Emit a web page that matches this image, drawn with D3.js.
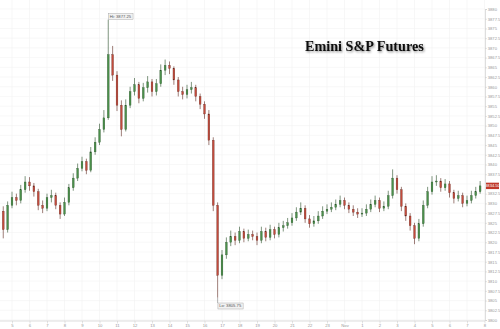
<!DOCTYPE html>
<html>
<head>
<meta charset="utf-8">
<script src="https://cdn.jsdelivr.net/npm/d3@7"></script>
<style>
  body { margin: 0; background: #fff; }
  svg { display: block; }
</style>
</head>
<body>
<svg id="chart" width="500" height="329"></svg>
<script>
// 15 minute bars, first bar at hour 4.5
const barStartHour = 4.5;
const barStepHours = 0.25;
const firstOpen = 3828;

const closes = [
  3823.25, 3829.5, 3831.5, 3830.75, 3833.5, 3835.5, 3834.5, 3833, 3829.5, 3828.75,
  3831.5, 3832, 3829.5, 3827.25, 3830.25, 3834, 3836.5, 3839, 3840.75, 3838.5,
  3843.25, 3845.75, 3849, 3852, 3868.25, 3863, 3855.25, 3849, 3855.25, 3858.75,
  3860.5, 3857, 3859.75, 3861.25, 3858.75, 3860.75, 3864.25, 3865.5, 3864.75, 3861.75,
  3858.75, 3858, 3859.25, 3859.75, 3857.5, 3855.5, 3853, 3846.25, 3829.5, 3811.5,
  3816.75, 3820, 3821.5, 3820.5, 3822.75, 3821, 3822, 3821.5, 3820.5, 3822.75,
  3821.25, 3823.25, 3822, 3823.75, 3824.25, 3825, 3826.25, 3827.75, 3828.75, 3826,
  3824.75, 3825.5, 3826.75, 3828, 3828.5, 3829, 3829.75, 3830.75, 3829.5, 3828.5,
  3827.75, 3827.25, 3827.5, 3828.5, 3829.75, 3830.75, 3828.75, 3829.25, 3832, 3836.5,
  3833.5, 3829.25, 3826.75, 3824.25, 3821, 3824.75, 3829.5, 3833, 3835.5, 3835.75,
  3834, 3835, 3832.75, 3831.25, 3832, 3830, 3830.75, 3832, 3833, 3834.5
];

const highs = [
  3829.25, 3830.5, 3833, 3832.5, 3834.75, 3837, 3836.75, 3835.25, 3833.75, 3830.75,
  3832.5, 3833.5, 3832.75, 3830.25, 3831.5, 3835, 3837.75, 3840.25, 3842, 3841.5,
  3844.5, 3847, 3850.5, 3854, 3877.25, 3870.5, 3864, 3856.5, 3856.75, 3860,
  3862.25, 3861.25, 3861, 3862.75, 3862, 3862, 3865.75, 3867, 3866.5, 3865.25,
  3862.5, 3860, 3860.5, 3861.25, 3860.5, 3858.25, 3856.25, 3854, 3847, 3830.25,
  3818, 3821.25, 3823, 3822.5, 3824, 3823.5, 3823.25, 3823, 3822.5, 3824,
  3823.75, 3824.5, 3824, 3825, 3825.5, 3826.25, 3827.5, 3829, 3830.25, 3829.5,
  3827, 3826.75, 3828, 3829.25, 3829.75, 3830.25, 3831, 3832, 3831.5, 3830.25,
  3829.5, 3828.75, 3828.75, 3829.75, 3831, 3832, 3831.5, 3830.5, 3833.25, 3838.75,
  3837.25, 3834.25, 3830, 3827.5, 3825, 3826, 3830.75, 3834.25, 3837, 3837.25,
  3836.5, 3836.25, 3835.75, 3833.5, 3833.25, 3832.75, 3832, 3833.25, 3834.25, 3835.75
];

const lows = [
  3821, 3822.5, 3828.75, 3829.5, 3830, 3832.75, 3833.25, 3831.75, 3828.25, 3827.5,
  3828, 3830.25, 3828.5, 3826, 3826.75, 3829.5, 3833.25, 3835.75, 3838.25, 3837.5,
  3838, 3842.5, 3845, 3848.25, 3851.5, 3861.5, 3853.75, 3847.25, 3848.5, 3854.5,
  3857.75, 3855.75, 3856.25, 3858.5, 3857.5, 3857.75, 3860, 3863, 3863.25, 3860.5,
  3857.5, 3856.75, 3857, 3858.25, 3856.25, 3854.25, 3851.75, 3845, 3828, 3805.75,
  3810.5, 3815.75, 3819, 3819.25, 3819.75, 3820, 3820.25, 3820.5, 3819.25, 3819.75,
  3820.25, 3820.5, 3821, 3821.25, 3822.75, 3823.5, 3824.25, 3825.5, 3827, 3825,
  3823.75, 3824, 3824.75, 3826, 3827.25, 3827.75, 3828.25, 3829, 3828.5, 3827.5,
  3826.75, 3826.25, 3826.5, 3826.75, 3827.75, 3829, 3827.75, 3828, 3828.5, 3831.25,
  3832.5, 3828, 3825.5, 3823, 3819.5, 3820.25, 3824, 3828.75, 3832.25, 3834.5,
  3833, 3833.25, 3831.5, 3830, 3830.5, 3829, 3829.25, 3830, 3831.25, 3832.5
];

// bottom axis: hour ticks, day change shown by name
const xTickHours = [5, 6, 7, 8, 9, 10, 11, 12, 13, 14, 15, 16, 17, 18, 19, 20, 21, 22, 23,
  24, 25, 26, 27, 28, 29, 30, 31, 32];
const xTickLabels = ["5", "6", "7", "8", "9", "10", "11", "12", "13", "14", "15", "16", "17", "18",
  "19", "20", "21", "22", "23", "Nov", "1", "2", "3", "4", "5", "6", "7", "8"];

const yTickValues = d3.range(3800, 3880.01, 2.5);
const title = "Emini S&P Futures";

const plot = {left: 0, right: 485, top: 0, bottom: 321};

const svg = d3.select("#chart");

const x = d3.scaleLinear().domain([5, 32]).range([12, 484.5]);
const y = d3.scaleLinear().domain([3800, 3880]).range([320, 9]);

const bars = closes.map((c, i) => ({
  t: barStartHour + i * barStepHours,
  o: i === 0 ? firstOpen : closes[i - 1],
  h: highs[i],
  l: lows[i],
  c: c
}));
const last = bars[bars.length - 1];

// shadow for title
const defs = svg.append("defs");
const f = defs.append("filter").attr("id", "shadow")
  .attr("x", "-10%").attr("y", "-30%").attr("width", "120%").attr("height", "160%");
f.append("feDropShadow").attr("dx", 1).attr("dy", 1.2)
  .attr("stdDeviation", 0.8).attr("flood-color", "#000").attr("flood-opacity", 0.45);

// grid
const grid = svg.append("g");
grid.selectAll(".vg")
  .data(xTickHours)
  .enter().append("line")
  .attr("x1", d => x(d)).attr("x2", d => x(d))
  .attr("y1", plot.top).attr("y2", plot.bottom)
  .attr("stroke", "#f1f1f1").attr("stroke-width", 0.6);
grid.selectAll(".hg")
  .data(yTickValues)
  .enter().append("line")
  .attr("x1", plot.left).attr("x2", plot.right)
  .attr("y1", d => y(d)).attr("y2", d => y(d))
  .attr("stroke", "#f4f4f4").attr("stroke-width", 0.6);

// right axis
const yAxis = d3.axisRight(y)
  .tickValues(yTickValues)
  .tickSize(2)
  .tickFormat(d => d % 1 === 0 ? d3.format("d")(d) : d3.format(".1f")(d));
const yg = svg.append("g")
  .attr("transform", `translate(${plot.right},0)`)
  .call(yAxis);
yg.select(".domain").attr("stroke", "#c8c8c8").attr("stroke-width", 0.6);
yg.selectAll(".tick line").attr("stroke", "#c8c8c8").attr("stroke-width", 0.5);
yg.selectAll(".tick text")
  .attr("x", 2.8)
  .attr("fill", "#999")
  .style("font-family", "Arial, 'Liberation Sans', sans-serif")
  .style("font-size", "4.1px");
// labels hidden behind the last price tag
yg.selectAll(".tick")
  .filter(d => Math.abs(y(d) - y(last.c)) < 5)
  .select("text").remove();

// bottom axis
const xAxis = d3.axisBottom(x)
  .tickValues(xTickHours)
  .tickSize(2.5)
  .tickFormat((d, i) => xTickLabels[i]);
const xg = svg.append("g")
  .attr("transform", `translate(0,${plot.bottom})`)
  .call(xAxis);
xg.select(".domain").attr("d", `M${plot.left},0H${plot.right}`)
  .attr("stroke", "#c8c8c8").attr("stroke-width", 0.6);
xg.selectAll(".tick line").attr("stroke", "#c8c8c8").attr("stroke-width", 0.5);
xg.selectAll(".tick text")
  .attr("y", 3.3)
  .attr("fill", "#999")
  .style("font-family", "Arial, 'Liberation Sans', sans-serif")
  .style("font-size", "4.2px");

// candles
const barW = 1.8;
const candles = svg.append("g");
const cg = candles.selectAll(".candle")
  .data(bars)
  .enter().append("g")
  .attr("class", "candle");

cg.append("line")
  .attr("x1", d => x(d.t)).attr("x2", d => x(d.t))
  .attr("y1", d => y(d.h)).attr("y2", d => y(d.l))
  .attr("stroke", d => d.c >= d.o ? "#2a4f2a" : "#5e2820")
  .attr("stroke-width", 0.6);

cg.append("rect")
  .attr("x", d => x(d.t) - barW / 2)
  .attr("width", barW)
  .attr("y", d => y(Math.max(d.o, d.c)))
  .attr("height", d => Math.max(0.6, Math.abs(y(d.o) - y(d.c))))
  .attr("fill", d => d.c >= d.o ? "#4a8f4a" : "#c24a3c")
  .attr("stroke", d => d.c >= d.o ? "#2a4f2a" : "#5e2820")
  .attr("stroke-width", 0.3);

// hi / lo annotations
const hiBar = bars.reduce((a, b) => b.h > a.h ? b : a);
const loBar = bars.reduce((a, b) => b.l < a.l ? b : a);

function annotate(bar, value, label, boxY) {
  const px = x(bar.t), py = y(value);
  const g = svg.append("g");
  const txt = label + d3.format(".2f")(value);
  g.append("line")
    .attr("x1", px).attr("x2", px)
    .attr("y1", py).attr("y2", boxY < py ? boxY + 6 : boxY)
    .attr("stroke", "#666").attr("stroke-width", 0.5);
  const t = g.append("text")
    .attr("x", px + 1.5).attr("y", boxY + 4.3)
    .attr("fill", "#555")
    .style("font-family", "Arial, 'Liberation Sans', sans-serif")
    .style("font-size", "4.2px")
    .text(txt);
  const bb = t.node().getBBox();
  g.insert("rect", "text")
    .attr("x", bb.x - 1.2).attr("y", boxY)
    .attr("width", bb.width + 2.4).attr("height", 6)
    .attr("fill", "#f2f2f2").attr("stroke", "#9a9a9a").attr("stroke-width", 0.4);
}
annotate(hiBar, hiBar.h, "Hi: ", 13.5);
annotate(loBar, loBar.l, "Lo: ", 303);

// last price tag
const tag = svg.append("g").attr("transform", `translate(${plot.right + 1},${y(last.c)})`);
tag.append("rect")
  .attr("x", 0).attr("y", -3.2).attr("width", 13).attr("height", 6.4)
  .attr("fill", "#c0392b");
tag.append("text")
  .attr("x", 6.5).attr("y", 1.5)
  .attr("text-anchor", "middle")
  .attr("fill", "#fff")
  .style("font-family", "Arial, 'Liberation Sans', sans-serif")
  .style("font-size", "4.1px")
  .text(d3.format(".2f")(last.c));

// title
svg.append("text")
  .attr("x", 305).attr("y", 50.5)
  .attr("filter", "url(#shadow)")
  .attr("fill", "#111")
  .style("font-family", "'Liberation Serif', 'Times New Roman', serif")
  .style("font-weight", "bold")
  .style("font-size", "14.2px")
  .text(title);
</script>
</body>
</html>
